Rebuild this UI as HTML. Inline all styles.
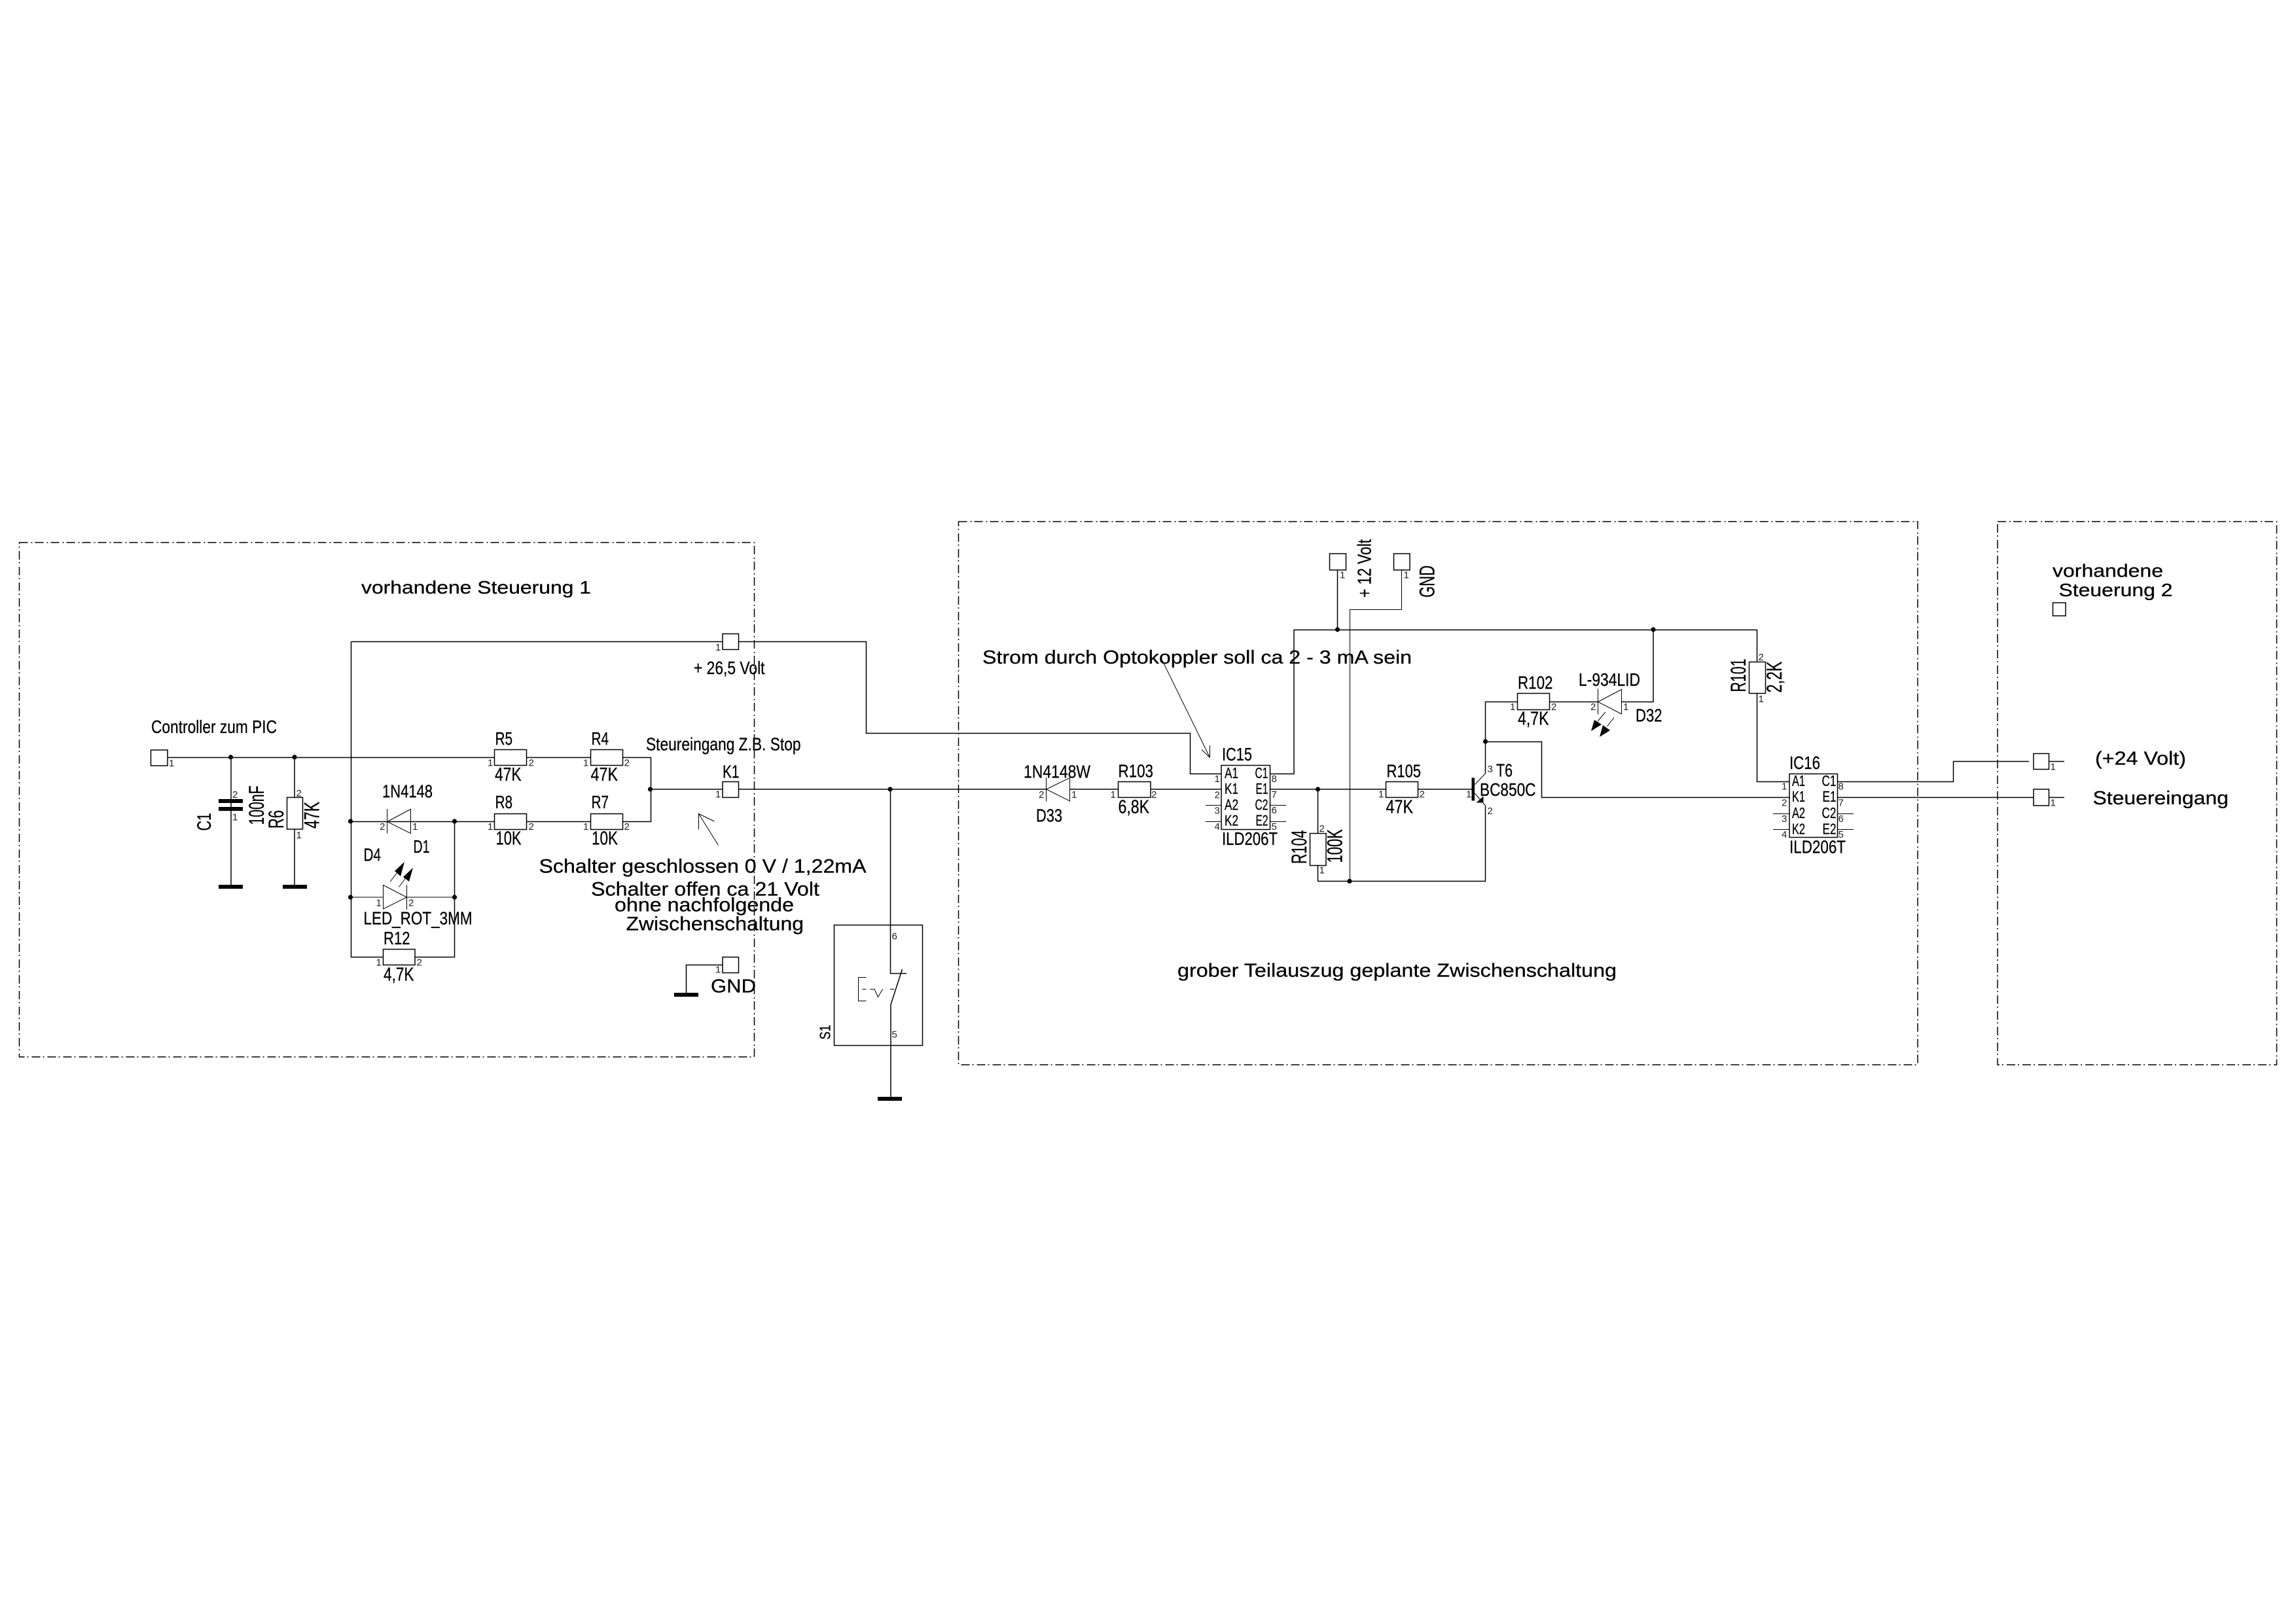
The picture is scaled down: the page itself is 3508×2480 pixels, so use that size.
<!DOCTYPE html>
<html><head><meta charset="utf-8"><title>Schaltplan</title>
<style>
html,body{margin:0;padding:0;background:#fff}
svg{display:block}
text{font-family:"Liberation Sans",Arial,sans-serif;fill:#000;stroke:#000;stroke-width:.3}
.w{fill:none;stroke:#000;stroke-width:1.5}
.b{fill:#fff;stroke:#000;stroke-width:1.5}
.t{fill:none;stroke:#000;stroke-width:1}
.f{fill:#000;stroke:none}
.d{fill:none;stroke:#000;stroke-width:1.5;stroke-dasharray:13 5 2 4}
.p text{font-size:15px;fill:#222;stroke:none}
.n{font-size:23px}
</style></head><body>
<svg xmlns="http://www.w3.org/2000/svg" width="3508" height="2480" viewBox="0 0 3508 2480">
<rect width="3508" height="2480" fill="#fff"/>
<!-- dash-dot frames -->
<rect class="d" x="29.5" y="829" width="1123" height="786"/>
<rect class="d" x="1464.5" y="797" width="1465.5" height="830"/>
<rect class="d" x="3052" y="797" width="426.5" height="830"/>

<!-- wires -->
<path class="w" d="M256 1157.5H755M804 1157.5H902M952 1157.5H994.5V1255.5H952M902 1255.5H804M755 1255.5H535.5M536.5 980.5V1462.5H585M634 1462.5H694.5V1255.5"/>
<path class="w" d="M536.5 980.5H1104M1128.5 980.5H1323.5V1120.5H1818.5V1182.5H1866"/>
<path class="w" d="M993.5 1206H1104M1128.5 1206H1598M1635 1206H1709M1758 1206H1866M1940.5 1206H2117M2167 1206H2249"/>
<path class="w" d="M1048.5 1520V1474.5H1104"/>
<path class="w" d="M353 1157.5V1355M450 1157.5V1218M450 1267V1355"/>
<path class="w" d="M1360.5 1206V1487.5H1385M1378.5 1481L1361 1535V1679"/>
<path class="t" d="M1323.5 1493.5H1311.5V1529.5H1323.5M1317.5 1511.5H1323.5M1329.5 1511.5H1336L1341.5 1523.5L1348.5 1511.5M1360 1511.5H1366.5"/>
<!-- 12V / GND right part -->
<path class="w" d="M1940.5 1182.5H1977V962.5H2684.5V1011M2684.5 1060V1194.5H2734"/>
<path class="w" d="M2043.5 871V962.5"/>
<path class="t" d="M2141.5 871V931.5H2062.5V1346.5"/>
<path class="w" d="M2013.5 1206V1273M2013.5 1322V1346.5H2269.5V1231"/>
<path class="w" d="M2269.5 1182V1072.5H2318.5M2367.5 1072.5H2441M2478 1072.5H2526V962.5"/>
<path class="w" d="M2269.5 1133.5H2355.5V1218.5H2734"/>
<path class="w" d="M2807.5 1194.5H2984.5V1163.5H3100M3130.5 1163.5H3154M2807.5 1218.5H3107M3130.5 1218.5H3154"/>
<path class="t" d="M1842 1230.5H1866M1842 1255.5H1866M1940.5 1230.5H1965M1940.5 1255.5H1965M2709 1243.5H2734M2709 1267.5H2734M2807.5 1243.5H2832M2807.5 1267.5H2832"/>

<!-- connectors -->
<rect class="b" x="230.5" y="1146" width="25.5" height="24"/>
<rect class="b" x="1104" y="968.5" width="24.5" height="24"/>
<rect class="w" x="1104" y="1194.5" width="24.5" height="24"/>
<rect class="b" x="1104" y="1462.5" width="24.5" height="24"/>
<rect class="b" x="2031.5" y="846" width="25" height="25"/>
<rect class="b" x="2129.5" y="846" width="24.5" height="25"/>
<rect class="b" x="3136.5" y="921" width="19.5" height="20"/>
<rect class="b" x="3107" y="1151.5" width="23.5" height="24"/>
<rect class="b" x="3107" y="1206" width="23.5" height="25"/>

<!-- resistors -->
<rect class="b" x="755.5" y="1145.5" width="49" height="24"/>
<rect class="b" x="902.5" y="1145.5" width="49" height="24"/>
<rect class="b" x="755.5" y="1243.5" width="49" height="24"/>
<rect class="b" x="902.5" y="1243.5" width="49" height="24"/>
<rect class="b" x="438.5" y="1218.5" width="24" height="48.5"/>
<rect class="b" x="585.5" y="1450.5" width="48.5" height="24"/>
<rect class="b" x="1708.5" y="1194.5" width="49.5" height="24"/>
<rect class="b" x="2117.5" y="1194.5" width="49" height="24"/>
<rect class="b" x="2001.5" y="1273.5" width="24.5" height="49"/>
<rect class="b" x="2318.5" y="1059.5" width="49" height="25"/>
<rect class="b" x="2672.5" y="1011.5" width="25" height="48"/>

<!-- ICs, switch -->
<rect class="w" x="1866" y="1169.5" width="74.5" height="98"/>
<rect class="w" x="2734" y="1182.5" width="73.5" height="97"/>
<rect class="w" x="1274.5" y="1413.5" width="135" height="184"/>

<!-- bars: capacitor / grounds -->
<rect class="f" x="334" y="1221" width="37" height="6"/>
<rect class="f" x="334" y="1233" width="37" height="6"/>
<rect class="f" x="334" y="1352" width="37" height="6"/>
<rect class="f" x="432" y="1352" width="37" height="6"/>
<rect class="f" x="1030" y="1517" width="37" height="6"/>
<rect class="f" x="1341" y="1676" width="37" height="6"/>

<!-- diodes -->
<path class="t" d="M591.5 1236V1273.5M591.5 1255.5L627.5 1236.5V1273.5Z"/>
<path class="t" d="M585.5 1352.5V1389L621.5 1371ZM621.5 1352V1390"/>
<path class="t" d="M596 1347.5L607 1333M609.5 1355.5L621 1340"/>
<polygon class="f" points="618,1317 603,1331 612,1339"/>
<polygon class="f" points="631,1326 616,1340 625,1347"/>
<path class="t" d="M1598.5 1188V1224.5M1598.5 1206L1634.5 1188.5V1224Z"/>
<path class="t" d="M2441.5 1052.5V1091.5M2441.5 1072.5L2477.5 1053.5V1091Z"/>
<path class="t" d="M2453 1088L2441 1102M2466 1096.5L2455.5 1110"/>
<polygon class="f" points="2431,1117 2436,1100 2447,1107"/>
<polygon class="f" points="2444,1126 2449,1108 2460,1116"/>

<!-- transistor -->
<rect class="f" x="2248.5" y="1188.5" width="4.5" height="35"/>
<path class="t" d="M2253 1199L2269.5 1182M2253 1212L2269.5 1231"/>
<polygon class="f" points="2255.5,1226.5 2266.5,1216.5 2266.5,1226.5"/>

<!-- note arrows -->
<path class="t" d="M1097.5 1291.5L1067.5 1243.5V1267.5M1067.5 1243.5L1091.5 1255"/>
<path class="t" d="M1776 1009.5L1848.5 1157.5V1139M1848.5 1157.5L1836 1145.5"/>

<!-- dots -->
<g class="f">
<circle cx="352.5" cy="1157" r="3.6"/><circle cx="450" cy="1157" r="3.6"/>
<circle cx="535.5" cy="1255" r="3.6"/><circle cx="694.5" cy="1255" r="3.6"/>
<circle cx="535.5" cy="1371" r="3.6"/><circle cx="694.5" cy="1371" r="3.6"/>
<circle cx="993.5" cy="1206" r="3.6"/><circle cx="1360" cy="1206" r="3.6"/>
<circle cx="2013.5" cy="1206" r="3.6"/><circle cx="2062" cy="1346.5" r="3.6"/>
<circle cx="2043.5" cy="962" r="3.6"/><circle cx="2526" cy="962" r="3.6"/>
<circle cx="2269.5" cy="1133" r="3.6"/>
</g>
<path class="t" d="M535.5 1371H585M621.5 1371H694.5"/>

<!-- main labels -->
<g>
<text x="552" y="907" font-size="28" textLength="351" lengthAdjust="spacingAndGlyphs">vorhandene Steuerung 1</text>
<text x="231" y="1120" font-size="28" textLength="192" lengthAdjust="spacingAndGlyphs">Controller zum PIC</text>
<text x="1060" y="1030" font-size="28" textLength="108.5" lengthAdjust="spacingAndGlyphs">+ 26,5 Volt</text>
<text x="987" y="1146.5" font-size="28" textLength="236.5" lengthAdjust="spacingAndGlyphs">Steureingang Z.B. Stop</text>
<text x="1104" y="1188.5" font-size="28" textLength="25.5" lengthAdjust="spacingAndGlyphs">K1</text>
<text x="823.5" y="1333.5" font-size="30" textLength="500" lengthAdjust="spacingAndGlyphs">Schalter geschlossen 0 V / 1,22mA</text>
<text x="903" y="1368.5" font-size="30" textLength="349" lengthAdjust="spacingAndGlyphs">Schalter offen ca 21 Volt</text>
<text x="939" y="1392.5" font-size="30" textLength="274" lengthAdjust="spacingAndGlyphs">ohne nachfolgende</text>
<text x="956.5" y="1421.5" font-size="30" textLength="271.5" lengthAdjust="spacingAndGlyphs">Zwischenschaltung</text>
<text x="1086" y="1516.5" font-size="29" textLength="69" lengthAdjust="spacingAndGlyphs">GND</text>
<text x="1501" y="1014" font-size="29" textLength="656" lengthAdjust="spacingAndGlyphs">Strom durch Optokoppler soll ca 2 - 3 mA sein</text>
<text x="1799" y="1492.5" font-size="29" textLength="671" lengthAdjust="spacingAndGlyphs">grober Teilauszug geplante Zwischenschaltung</text>
<text x="3136" y="881.5" font-size="28" textLength="169" lengthAdjust="spacingAndGlyphs">vorhandene</text>
<text x="3145.5" y="911" font-size="28" textLength="174" lengthAdjust="spacingAndGlyphs">Steuerung 2</text>
<text x="3201" y="1168.5" font-size="29" textLength="139" lengthAdjust="spacingAndGlyphs">(+24 Volt)</text>
<text x="3197.5" y="1229" font-size="29" textLength="207.5" lengthAdjust="spacingAndGlyphs">Steuereingang</text>

<!-- component labels left -->
<text x="756.5" y="1138" font-size="28" textLength="26.5" lengthAdjust="spacingAndGlyphs">R5</text>
<text x="903.5" y="1138" font-size="28" textLength="26.5" lengthAdjust="spacingAndGlyphs">R4</text>
<text x="756" y="1193" font-size="29" textLength="40.5" lengthAdjust="spacingAndGlyphs">47K</text>
<text x="902.5" y="1193" font-size="29" textLength="41.5" lengthAdjust="spacingAndGlyphs">47K</text>
<text x="756.5" y="1235" font-size="28" textLength="26.5" lengthAdjust="spacingAndGlyphs">R8</text>
<text x="903.5" y="1235" font-size="28" textLength="26.5" lengthAdjust="spacingAndGlyphs">R7</text>
<text x="757.5" y="1290.5" font-size="29" textLength="39" lengthAdjust="spacingAndGlyphs">10K</text>
<text x="904" y="1290.5" font-size="29" textLength="40" lengthAdjust="spacingAndGlyphs">10K</text>
<text x="584" y="1218.5" font-size="28" textLength="77" lengthAdjust="spacingAndGlyphs">1N4148</text>
<text x="631.5" y="1303" font-size="28" textLength="25" lengthAdjust="spacingAndGlyphs">D1</text>
<text x="555.5" y="1315.5" font-size="28" textLength="26.5" lengthAdjust="spacingAndGlyphs">D4</text>
<text x="555.5" y="1412.5" font-size="28" textLength="166" lengthAdjust="spacingAndGlyphs">LED_ROT_3MM</text>
<text x="586" y="1443" font-size="28" textLength="40.5" lengthAdjust="spacingAndGlyphs">R12</text>
<text x="586" y="1498.5" font-size="29" textLength="46.5" lengthAdjust="spacingAndGlyphs">4,7K</text>
<text transform="translate(322 1269.5) rotate(-90)" font-size="30" textLength="27.5" lengthAdjust="spacingAndGlyphs">C1</text>
<text transform="translate(403 1260.5) rotate(-90)" font-size="32" textLength="60" lengthAdjust="spacingAndGlyphs">100nF</text>
<text transform="translate(433 1266) rotate(-90)" font-size="32" textLength="28" lengthAdjust="spacingAndGlyphs">R6</text>
<text transform="translate(487.5 1266) rotate(-90)" font-size="32" textLength="41" lengthAdjust="spacingAndGlyphs">47K</text>
<text transform="translate(1268.5 1588.5) rotate(-90)" font-size="23" textLength="22.5" lengthAdjust="spacingAndGlyphs">S1</text>

<!-- component labels middle -->
<text x="1867" y="1162" font-size="28" textLength="46" lengthAdjust="spacingAndGlyphs">IC15</text>
<text x="1564" y="1188.5" font-size="28" textLength="102" lengthAdjust="spacingAndGlyphs">1N4148W</text>
<text x="1708.5" y="1187.5" font-size="28" textLength="53.5" lengthAdjust="spacingAndGlyphs">R103</text>
<text x="1708.5" y="1242.5" font-size="29" textLength="47.5" lengthAdjust="spacingAndGlyphs">6,8K</text>
<text x="1583" y="1255.5" font-size="28" textLength="40" lengthAdjust="spacingAndGlyphs">D33</text>
<text x="1867" y="1291" font-size="28" textLength="85" lengthAdjust="spacingAndGlyphs">ILD206T</text>
<text x="2118.5" y="1187.5" font-size="28" textLength="52.5" lengthAdjust="spacingAndGlyphs">R105</text>
<text x="2117.5" y="1242.5" font-size="29" textLength="41.5" lengthAdjust="spacingAndGlyphs">47K</text>
<text transform="translate(1996 1320) rotate(-90)" font-size="32" textLength="51.5" lengthAdjust="spacingAndGlyphs">R104</text>
<text transform="translate(2050.5 1318.5) rotate(-90)" font-size="32" textLength="51.5" lengthAdjust="spacingAndGlyphs">100K</text>
<text x="2286" y="1186.5" font-size="28" textLength="25" lengthAdjust="spacingAndGlyphs">T6</text>
<text x="2261" y="1216" font-size="28" textLength="85.5" lengthAdjust="spacingAndGlyphs">BC850C</text>
<text transform="translate(2094.5 913) rotate(-90)" font-size="29" textLength="89" lengthAdjust="spacingAndGlyphs">+ 12 Volt</text>
<text transform="translate(2191.5 913) rotate(-90)" font-size="32" textLength="49" lengthAdjust="spacingAndGlyphs">GND</text>
<text x="2319" y="1052.5" font-size="28" textLength="53.5" lengthAdjust="spacingAndGlyphs">R102</text>
<text x="2319" y="1107.5" font-size="29" textLength="47.5" lengthAdjust="spacingAndGlyphs">4,7K</text>
<text x="2412" y="1048" font-size="28" textLength="94" lengthAdjust="spacingAndGlyphs">L-934LID</text>
<text x="2499" y="1102.5" font-size="28" textLength="40.5" lengthAdjust="spacingAndGlyphs">D32</text>
<text transform="translate(2667 1057.5) rotate(-90)" font-size="32" textLength="51" lengthAdjust="spacingAndGlyphs">R101</text>
<text transform="translate(2722 1058.5) rotate(-90)" font-size="32" textLength="48" lengthAdjust="spacingAndGlyphs">2,2K</text>
<text x="2734" y="1175" font-size="28" textLength="47" lengthAdjust="spacingAndGlyphs">IC16</text>
<text x="2734" y="1303.5" font-size="28" textLength="86" lengthAdjust="spacingAndGlyphs">ILD206T</text>

<!-- IC pin names -->
<g class="n">
<text x="1871" y="1189" textLength="21" lengthAdjust="spacingAndGlyphs">A1</text>
<text x="1871" y="1213" textLength="21" lengthAdjust="spacingAndGlyphs">K1</text>
<text x="1871" y="1237.5" textLength="21" lengthAdjust="spacingAndGlyphs">A2</text>
<text x="1871" y="1261.5" textLength="21" lengthAdjust="spacingAndGlyphs">K2</text>
<text x="1917.5" y="1189" textLength="20" lengthAdjust="spacingAndGlyphs">C1</text>
<text x="1918.5" y="1213" textLength="19" lengthAdjust="spacingAndGlyphs">E1</text>
<text x="1917.5" y="1237.5" textLength="20" lengthAdjust="spacingAndGlyphs">C2</text>
<text x="1918.5" y="1261.5" textLength="19" lengthAdjust="spacingAndGlyphs">E2</text>
<text x="2738" y="1201" textLength="20" lengthAdjust="spacingAndGlyphs">A1</text>
<text x="2738" y="1225" textLength="20" lengthAdjust="spacingAndGlyphs">K1</text>
<text x="2738" y="1250" textLength="20" lengthAdjust="spacingAndGlyphs">A2</text>
<text x="2738" y="1274.5" textLength="20" lengthAdjust="spacingAndGlyphs">K2</text>
<text x="2783.5" y="1201" textLength="22" lengthAdjust="spacingAndGlyphs">C1</text>
<text x="2784.5" y="1225" textLength="21" lengthAdjust="spacingAndGlyphs">E1</text>
<text x="2783.5" y="1250" textLength="22" lengthAdjust="spacingAndGlyphs">C2</text>
<text x="2784.5" y="1274.5" textLength="21" lengthAdjust="spacingAndGlyphs">E2</text>
</g>

<!-- pin numbers -->
<g class="p">
<text x="258" y="1171">1</text>
<text x="355" y="1219">2</text><text x="355" y="1253.5">1</text>
<text x="452.5" y="1217">2</text><text x="452.5" y="1281">1</text>
<text x="745" y="1170.5">1</text><text x="807.5" y="1170.5">2</text>
<text x="891" y="1170.5">1</text><text x="953.5" y="1170.5">2</text>
<text x="745" y="1268">1</text><text x="807.5" y="1268">2</text>
<text x="891" y="1268">1</text><text x="953.5" y="1268">2</text>
<text x="580" y="1268">2</text><text x="630" y="1268">1</text>
<text x="574.5" y="1384.5">1</text><text x="624" y="1384.5">2</text>
<text x="574.5" y="1475.5">1</text><text x="636.5" y="1475.5">2</text>
<text x="1093" y="994">1</text><text x="1093" y="1218.5">1</text><text x="1093" y="1486.5">1</text>
<text x="1362.5" y="1435.5">6</text><text x="1362.5" y="1585.5">5</text>
<text x="1587" y="1219">2</text><text x="1637" y="1219">1</text>
<text x="1696.5" y="1219">1</text><text x="1759" y="1219">2</text>
<text x="1855.5" y="1195">1</text><text x="1855.5" y="1219.5">2</text><text x="1855.5" y="1243.5">3</text><text x="1855.5" y="1268">4</text>
<text x="1942.5" y="1195">8</text><text x="1942.5" y="1219">7</text><text x="1942.5" y="1243">6</text><text x="1942.5" y="1268">5</text>
<text x="2015.5" y="1271">2</text><text x="2015.5" y="1334.5">1</text>
<text x="2106" y="1218.5">1</text><text x="2168.5" y="1218.5">2</text>
<text x="2272.5" y="1180">3</text><text x="2240" y="1218.5">1</text><text x="2272.5" y="1244">2</text>
<text x="2047" y="883.5">1</text><text x="2144.5" y="883.5">1</text>
<text x="2307" y="1085">1</text><text x="2370" y="1085">2</text>
<text x="2430" y="1085">2</text><text x="2480" y="1085">1</text>
<text x="2686.5" y="1009">2</text><text x="2686.5" y="1073">1</text>
<text x="2722" y="1206.5">1</text><text x="2722" y="1231.5">2</text><text x="2722" y="1256">3</text><text x="2722" y="1280">4</text>
<text x="2808.5" y="1206.5">8</text><text x="2808.5" y="1231.5">7</text><text x="2808.5" y="1256">6</text><text x="2808.5" y="1280">5</text>
<text x="3132.5" y="1176.5">1</text><text x="3132.5" y="1231.5">1</text>
</g>
</g>
</svg>
</body></html>
